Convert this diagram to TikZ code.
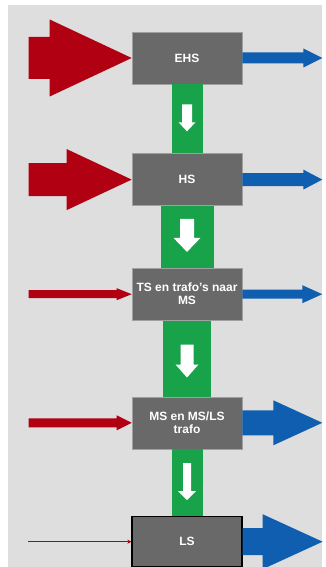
\documentclass[tikz,border=0pt]{standalone}
\usepackage{fontspec}
\setmainfont{Liberation Sans}
\usetikzlibrary{positioning, arrows.meta}
\definecolor{panelgray}{RGB}{222,222,222}
\definecolor{boxgray}{RGB}{105,105,105}
\definecolor{boxedge}{RGB}{160,160,160}
\definecolor{inred}{RGB}{176,0,18}
\definecolor{outblue}{RGB}{16,94,175}
\definecolor{flowgreen}{RGB}{24,162,74}

% block arrow along x, drawn from an anchor:
% #1 colour, #2 anchor, #3 tail, #4 head base, #5 tip, #6 half shaft, #7 half head
\newcommand{\harr}[7]{%
  \begin{scope}[shift={(#2)}]
    \fill[#1] (#3,-#6) -- (#4,-#6) -- (#4,-#7) -- (#5,0) -- (#4,#7)
      -- (#4,#6) -- (#3,#6) -- cycle;
  \end{scope}}
% white down arrow below a box: #1 box, #2 top, #3 head base, #4 tip, #5 half shaft, #6 half head
\newcommand{\downarr}[6]{%
  \begin{scope}[shift={(#1.south)}]
    \fill[white] (-#5,#2) -- (-#5,#3) -- (-#6,#3) -- (0,#4) -- (#6,#3)
      -- (#5,#3) -- (#5,#2) -- cycle;
  \end{scope}}
% green bar between two boxes: #1 upper box, #2 lower box, #3 half width
\newcommand{\flowbar}[3]{%
  \fill[flowgreen] ([xshift=-#3pt]#1.south) rectangle ([xshift=#3pt]#2.north);}

\begin{document}
\begin{tikzpicture}[x=1pt, y=-1pt,
  level/.style={fill=boxgray, draw=boxedge, line width=0.6pt, text=white,
    minimum width=110pt, minimum height=52pt, inner sep=0pt, align=center,
    font=\bfseries\fontsize{12}{13}\selectfont}]
\useasboundingbox (0,0) rectangle (325,567);
\fill[panelgray] (8,5) rectangle (322,567);

\node[level] (ehs) at (187,58) {EHS};
\node[level, below=69pt of ehs] (hs) {HS};
\node[level, below=62pt of hs] (ts) {TS en trafo's naar\\MS};
\node[level, below=76pt of ts] (ms) {MS en MS/LS\\trafo};
\node[level, below=67pt of ms, draw=black, line width=1.2pt,
  minimum height=50pt] (ls) {LS};

% flow down
\flowbar{ehs}{hs}{15.5}
\flowbar{hs}{ts}{26.5}
\flowbar{ts}{ms}{24}
\flowbar{ms}{ls}{15.5}
\downarr{ehs}{20}{38}{47}{5}{8.5}
\downarr{hs}{13}{32}{46}{7}{13.5}
\downarr{ts}{24}{44}{57}{6.5}{11.5}
\downarr{ms}{14}{42}{51}{4}{9}

% in
\harr{inred}{ehs.west}{-103}{-82}{0}{21}{38.5}
\harr{inred}{hs.west}{-103}{-65}{0}{16.5}{30.5}
\harr{inred}{ts.west}{-103}{-15}{0}{4}{6}
\harr{inred}{ms.west}{-103}{-15}{0}{4.5}{7.5}
\coordinate[left=103pt of ls.west] (lsin);
\draw[inred, line width=1pt, -{Stealth[length=4pt, width=4pt]}] (lsin) -- (ls.west);

% out
\harr{outblue}{ehs.east}{0}{61}{80}{5.5}{9.5}
\harr{outblue}{hs.east}{0}{61}{80}{6.5}{10}
\harr{outblue}{ts.east}{0}{60}{80}{4.5}{9}
\harr{outblue}{ms.east}{0}{31}{80}{12.5}{22.5}
\harr{outblue}{ls.east}{0}{20}{80}{13.5}{27.5}
\end{tikzpicture}
\end{document}
